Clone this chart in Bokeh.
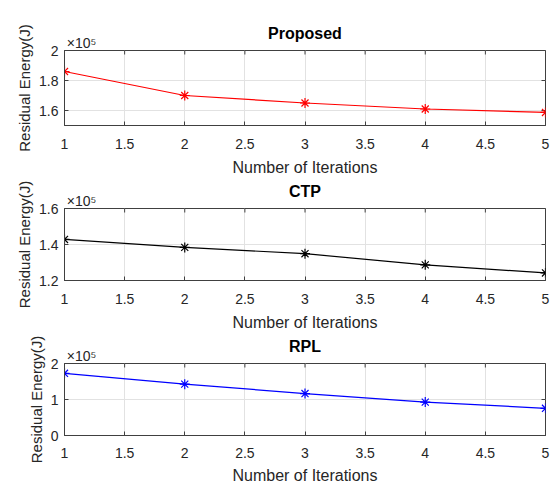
import math
from bokeh.plotting import figure
from bokeh.layouts import column
from bokeh.models import FixedTicker, LinearAxis, CustomJSTickFormatter, Range1d
from bokeh.embed import file_html
from bokeh.resources import INLINE

# ---- data ----
iterations = [1, 2, 3, 4, 5]
proposed = [186000, 170000, 165000, 161000, 158700]
ctp = [142800, 138400, 134900, 128700, 124200]
rpl = [172700, 142700, 116500, 92800, 75600]

titles = ["Proposed", "CTP", "RPL"]
x_ticks = [1, 1.5, 2, 2.5, 3, 3.5, 4, 4.5, 5]
y_ticks_proposed = [160000, 180000, 200000]
y_ticks_ctp = [120000, 140000, 160000]
y_ticks_rpl = [0, 100000, 200000]
y_range_proposed = (150000, 200000)
y_range_ctp = (120000, 160000)
y_range_rpl = (0, 200000)

x_label = "Number of Iterations"
y_label = "Residual Energy(J)"
exponent_label = "\u00d710\u2075"

FONT = "Liberation Sans"
BOX = "#404040"
TXT = "#262626"
GRID = "#e2e2e2"

xfmt = "return String(+tick.toFixed(2));"
yfmt = "return String(+(tick/1e5).toFixed(2));"


def panel(title, ys, color, yr, yticks, height, top, bottom, tick_standoff, label_standoff):
    x0, x1 = x_ticks[0], x_ticks[-1]
    p = figure(width=560, height=height, x_range=Range1d(x0, x1),
               y_range=Range1d(*yr), output_backend="svg",
               toolbar_location=None,
               min_border_left=64, min_border_right=15,
               min_border_top=top, min_border_bottom=bottom)
    p.background_fill_color = "white"
    p.border_fill_color = "white"
    p.outline_line_color = BOX
    p.outline_line_width = 1

    xa = p.below[0]
    xa.ticker = FixedTicker(ticks=x_ticks)
    xa.formatter = CustomJSTickFormatter(code=xfmt)
    ya = p.left[0]
    ya.ticker = FixedTicker(ticks=yticks)
    ya.formatter = CustomJSTickFormatter(code=yfmt)
    for ax in (xa, ya):
        ax.major_tick_in = 4
        ax.major_tick_out = 0
        ax.minor_tick_line_color = None
        ax.axis_line_color = BOX
        ax.major_tick_line_color = BOX
        ax.major_label_text_font = FONT
        ax.major_label_text_font_size = "14px"
        ax.major_label_text_color = TXT
        ax.axis_label_text_font = FONT
        ax.axis_label_text_font_style = "normal"
        ax.axis_label_text_color = TXT
    xa.axis_label = x_label
    xa.axis_label_text_font_size = "16px"
    xa.major_label_standoff = tick_standoff
    xa.axis_label_standoff = label_standoff
    ya.axis_label = y_label
    ya.axis_label_text_font_size = "15px"
    ya.major_label_standoff = 6
    ya.axis_label_standoff = 3

    # top: exponent note "x10^5" at the top-left corner and the bold title
    shift = (x1 - x0) * 17.0 / 481.0
    top_ax = LinearAxis(ticker=FixedTicker(ticks=[x0 + shift]),
                        formatter=CustomJSTickFormatter(code="return '%s';" % exponent_label),
                        axis_line_color=None, major_tick_line_color=None,
                        minor_tick_line_color=None, major_tick_in=0, major_tick_out=0,
                        major_label_standoff=0, major_label_text_font=FONT,
                        major_label_text_font_size="14px", major_label_text_color=TXT,
                        axis_label=title, axis_label_standoff=-10,
                        axis_label_text_font=FONT, axis_label_text_font_size="16px",
                        axis_label_text_font_style="bold", axis_label_text_color="black")
    p.add_layout(top_ax, "above")

    p.xgrid.ticker = FixedTicker(ticks=x_ticks)
    p.ygrid.ticker = FixedTicker(ticks=yticks)
    p.xgrid.grid_line_color = GRID
    p.ygrid.grid_line_color = GRID

    # inward ticks on the top and right edges (clipped to the frame)
    p.scatter(x_ticks, [yr[1]] * len(x_ticks), marker="dash", angle=math.pi / 2,
              size=8, line_color=BOX, line_width=1)
    p.scatter([x1] * len(yticks), yticks, marker="dash", size=8,
              line_color=BOX, line_width=1)

    p.line(iterations, ys, line_color=color, line_width=1.2)
    p.scatter(iterations, ys, marker="asterisk", size=10, line_color=color, line_width=1.2)
    return p


p1 = panel(titles[0], proposed, "#ff0000", y_range_proposed, y_ticks_proposed, 179, 50, 54, 13, 7)
p2 = panel(titles[1], ctp, "#000000", y_range_ctp, y_ticks_ctp, 155, 28, 54, 13, 7)
p3 = panel(titles[2], rpl, "#0000ff", y_range_rpl, y_ticks_rpl, 152, 28, 51, 12, 6)

layout = column(p1, p2, p3, spacing=0)
open("out.html", "w").write(file_html(layout, INLINE))
